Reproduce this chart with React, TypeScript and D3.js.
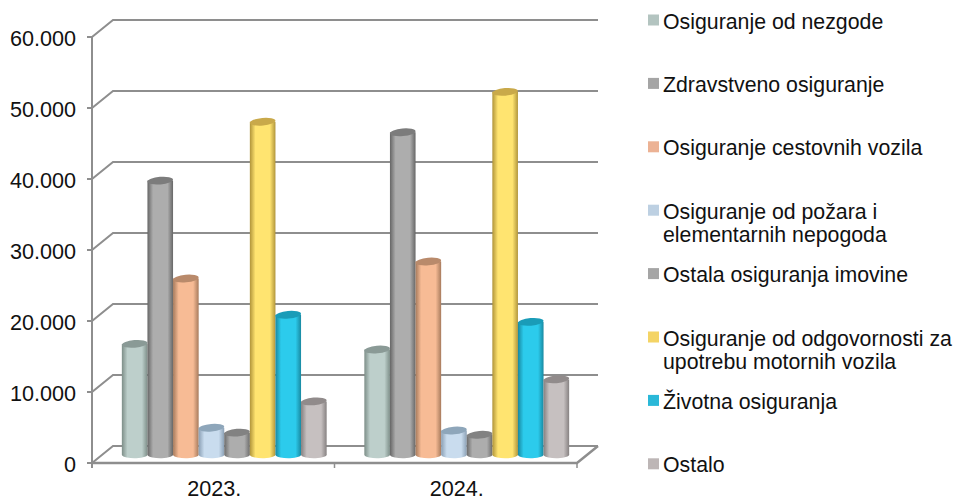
import React from "react";
import * as d3 from "d3";

const years = ["2023.", "2024."];
const seriesNames = [
  ["Osiguranje od nezgode"],
  ["Zdravstveno osiguranje"],
  ["Osiguranje cestovnih vozila"],
  ["Osiguranje od požara i", "elementarnih nepogoda"],
  ["Ostala osiguranja imovine"],
  ["Osiguranje od odgovornosti za", "upotrebu motornih vozila"],
  ["Životna osiguranja"],
  ["Ostalo"],
];
const values2023 = [16000, 39000, 25200, 4200, 3500, 47300, 20100, 7900];
const values2024 = [15200, 45800, 27600, 3800, 3200, 51500, 19100, 11000];
const tickValues = [0, 10000, 20000, 30000, 40000, 50000, 60000];
const tickLabels = ["0", "10.000", "20.000", "30.000", "40.000", "50.000", "60.000"];
const colEdge = ["#7d8e88", "#666666", "#a67a5c", "#8a9fb4", "#6c6c6c", "#b0943a", "#1888a0", "#858080"];
const colMid = ["#bdcfcb", "#adadad", "#f7bb95", "#c9dcee", "#adadad", "#ffe470", "#2ccbec", "#c6c0c0"];
const colTop = ["#8a9a96", "#7c7c7c", "#b98a6b", "#8ea6ba", "#828282", "#c9a94a", "#1a9cb8", "#918b8b"];
const colLegend = ["#b3c4c0", "#a5a5a5", "#ecb294", "#bdd0e2", "#a5a5a5", "#f4d465", "#2ab8d8", "#bdb6b6"];

const FONT = '"Liberation Sans", Arial, sans-serif';
const GRID = "#8e8e8e";
const left = 92, right = 577, dx = 21, dy = -17;
const y = d3.scaleLinear().domain([0, 60000]).range([463, 37]);
const x0 = d3.scaleBand().domain(years).range([left, right]);
const barW = 25.6;
const groupInner = barW * 8;
const topOff = -5.5;
const baseOff = -8;

export default function App() {
  return (
    <svg width={953} height={501} style={{ position: "absolute", left: 0, top: 0, background: "#fff" }} fontFamily={FONT}>
      <defs>
        {colMid.map((m, i) => (
          <linearGradient key={i} id={`g${i}`} x1="0" x2="1" y1="0" y2="0">
            <stop offset="0" stopColor={colEdge[i]} />
            <stop offset="0.22" stopColor={m} />
            <stop offset="0.78" stopColor={m} />
            <stop offset="1" stopColor={colEdge[i]} />
          </linearGradient>
        ))}
      </defs>
      {tickValues.map((v) => {
        const yy = y(v);
        return (
          <path key={v} d={`M${left - 5},${yy}H${left}L${left + dx},${yy + dy}H${right + dx}`} stroke={GRID} strokeWidth={2} fill="none" />
        );
      })}
      <line x1={left} x2={left} y1={y(60000)} y2={y(0) + 5} stroke={GRID} strokeWidth={2} />
      <path d={`M${left},${y(0)}H${right}L${right + dx},${y(0) + dy}`} fill="none" stroke={GRID} strokeWidth={2.5} />
      {[0, 1, 2].map((i) => {
        const xx = left + (i * (right - left)) / 2;
        return <line key={i} x1={xx} x2={xx} y1={y(0)} y2={y(0) + 5} stroke={GRID} strokeWidth={1.5} />;
      })}
      {tickValues.map((v, i) => (
        <text key={v} x={76} y={y(v) + 8.5} textAnchor="end" fontSize={21.6} fill="#111">
          {tickLabels[i]}
        </text>
      ))}
      {years.map((yr, gi) => {
        const vals = gi === 0 ? values2023 : values2024;
        const start = x0(yr)! + (x0.bandwidth() - groupInner) / 2 + 11;
        return (
          <g key={yr}>
            {vals.map((v, i) => {
              const bx = start + i * barW;
              const rx = barW / 2;
              const ry = 3.8;
              const top = y(v) + topOff;
              const base = y(0) + baseOff;
              const cx = bx + rx;
              return (
                <g key={i}>
                  <path
                    d={`M${bx},${top}V${base}A${rx},${ry} 0 0 0 ${bx + barW},${base - 1}V${top}Z`}
                    fill={`url(#g${i})`}
                  />
                  <ellipse cx={cx} cy={top} rx={rx} ry={ry} fill={colTop[i]} transform={`rotate(-5 ${cx} ${top})`} />
                </g>
              );
            })}
            <text x={x0(yr)! + x0.bandwidth() / 2 + 1} y={495.5} textAnchor="middle" fontSize={21.6} fill="#111">
              {yr}
            </text>
          </g>
        );
      })}
      {seriesNames.map((lines, i) => {
        const ly = 21 + 63.4 * i;
        return (
          <g key={i}>
            <rect x={648} y={ly - 6.5} width={11} height={11} fill={colLegend[i]} />
            {lines.map((t, j) => (
              <text key={j} x={663} y={ly + 7.5 + j * 23} fontSize={21.3} fill="#111">
                {t}
              </text>
            ))}
          </g>
        );
      })}
    </svg>
  );
}
